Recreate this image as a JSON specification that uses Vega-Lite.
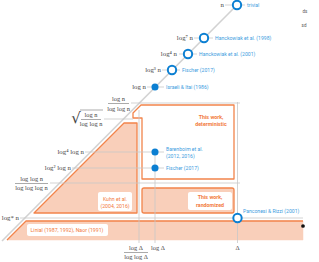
{
  "$schema": "https://vega.github.io/schema/vega-lite/v6.json",
  "width": 319,
  "height": 262,
  "padding": 0,
  "autosize": {"type": "none"},
  "background": "white",
  "config": {"view": {"stroke": null}},
  "datasets": {
    "polys": [
      {"id": "band", "i": 0, "x": 7, "y": 240},
      {"id": "band", "i": 1, "x": 26, "y": 221},
      {"id": "band", "i": 2, "x": 303, "y": 221},
      {"id": "band", "i": 3, "x": 303, "y": 240},
      {"id": "kuhn", "i": 0, "x": 34, "y": 213},
      {"id": "kuhn", "i": 1, "x": 124, "y": 123},
      {"id": "kuhn", "i": 2, "x": 137, "y": 123},
      {"id": "kuhn", "i": 3, "x": 137, "y": 213},
      {"id": "det", "i": 0, "x": 141, "y": 105},
      {"id": "det", "i": 1, "x": 234, "y": 105},
      {"id": "det", "i": 2, "x": 234, "y": 179},
      {"id": "det", "i": 3, "x": 142, "y": 179},
      {"id": "det", "i": 4, "x": 142, "y": 118},
      {"id": "det", "i": 5, "x": 133, "y": 118},
      {"id": "det", "i": 6, "x": 133, "y": 113},
      {"id": "bandtop", "i": 0, "x": 7, "y": 240},
      {"id": "bandtop", "i": 1, "x": 26, "y": 221},
      {"id": "bandtop", "i": 2, "x": 303, "y": 221}
    ],
    "rand": [{"x": 142, "x2": 234, "y": 188, "y2": 213}],
    "boxes": [
      {"x": 98, "x2": 132, "y": 192, "y2": 211},
      {"x": 27, "x2": 108, "y": 224, "y2": 236},
      {"x": 188, "x2": 232, "y": 192, "y2": 210}
    ],
    "grid": [
      {"x": 225, "x2": 245, "y": 5, "y2": 5},
      {"x": 194, "x2": 213, "y": 38, "y2": 38},
      {"x": 179, "x2": 197, "y": 54, "y2": 54},
      {"x": 162, "x2": 180, "y": 70, "y2": 70},
      {"x": 147, "x2": 164, "y": 87, "y2": 87},
      {"x": 131, "x2": 240, "y": 103, "y2": 103},
      {"x": 104, "x2": 133, "y": 119, "y2": 119},
      {"x": 85, "x2": 164, "y": 152, "y2": 152},
      {"x": 72, "x2": 164, "y": 168, "y2": 168},
      {"x": 50, "x2": 240, "y": 183, "y2": 183},
      {"x": 20, "x2": 303, "y": 218, "y2": 218},
      {"x": 139, "x2": 139, "y": 110, "y2": 243},
      {"x": 155, "x2": 155, "y": 152, "y2": 243},
      {"x": 237.5, "x2": 237.5, "y": 102, "y2": 243}
    ],
    "diag": [{"x": 2, "x2": 237, "y": 241, "y2": 5}],
    "bars": [
      {"x": 108, "x2": 129, "y": 103.5, "y2": 103.5},
      {"x": 80, "x2": 103, "y": 110, "y2": 110},
      {"x": 81, "x2": 101, "y": 119.5, "y2": 119.5},
      {"x": 15, "x2": 48, "y": 183.5, "y2": 183.5},
      {"x": 124, "x2": 148, "y": 252.5, "y2": 252.5}
    ],
    "sqrt": [{"x": 76, "y": 118, "t": "√"}],
    "openpts": [
      {"x": 237, "y": 5}, {"x": 204, "y": 38}, {"x": 188, "y": 54},
      {"x": 172, "y": 70}, {"x": 237.5, "y": 218}
    ],
    "fillpts": [{"x": 155, "y": 87}, {"x": 155, "y": 152}, {"x": 155, "y": 168}],
    "mathR": [
      {"x": 224, "y": 5, "t": "n"},
      {"x": 193, "y": 38, "t": "log⁷ n"},
      {"x": 177, "y": 54, "t": "log⁴ n"},
      {"x": 161, "y": 70, "t": "log³ n"},
      {"x": 146, "y": 87, "t": "log n"},
      {"x": 84, "y": 152, "t": "log⁴ log n"},
      {"x": 71, "y": 168, "t": "log² log n"},
      {"x": 19, "y": 218, "t": "log* n"}
    ],
    "mathC": [
      {"x": 118.5, "y": 98.5, "t": "log n"},
      {"x": 118.5, "y": 108.5, "t": "log log n"},
      {"x": 91, "y": 115, "t": "log n"},
      {"x": 91, "y": 124, "t": "log log n"},
      {"x": 31.5, "y": 179, "t": "log log n"},
      {"x": 31.5, "y": 188, "t": "log log log n"},
      {"x": 136, "y": 248, "t": "log Δ"},
      {"x": 136, "y": 257, "t": "log log Δ"},
      {"x": 158, "y": 248, "t": "log Δ"},
      {"x": 237.5, "y": 248, "t": "Δ"}
    ],
    "blue": [
      {"x": 247, "y": 5, "t": "trivial"},
      {"x": 215, "y": 38, "t": "Hanckowiak et al. (1998)"},
      {"x": 199, "y": 54, "t": "Hanckowiak et al. (2001)"},
      {"x": 182, "y": 70, "t": "Fischer (2017)"},
      {"x": 166, "y": 87, "t": "Israeli & Itai (1986)"},
      {"x": 166, "y": 148.5, "t": "Barenboim et al."},
      {"x": 166, "y": 155.5, "t": "(2012, 2016)"},
      {"x": 166, "y": 168, "t": "Fischer (2017)"},
      {"x": 243, "y": 211, "t": "Panconesi & Rizzi (2001)"}
    ],
    "orangeB": [
      {"x": 211, "y": 117, "t": "This work,"},
      {"x": 211, "y": 124, "t": "deterministic"},
      {"x": 210, "y": 197, "t": "This work,"},
      {"x": 210, "y": 205, "t": "randomized"}
    ],
    "orange": [
      {"x": 115, "y": 198.5, "t": "Kuhn et al."},
      {"x": 115, "y": 205.5, "t": "(2004, 2016)"},
      {"x": 67, "y": 230, "t": "Linial (1987, 1992), Naor (1991)"}
    ],
    "tiny": [
      {"x": 305, "y": 12, "t": "ds"},
      {"x": 304, "y": 26, "t": "sd"}
    ],
    "blk": [{"x": 303, "y": 226}]
  },
  "layer": [
    {
      "data": {"name": "polys"},
      "transform": [{"filter": "datum.id == 'band'"}],
      "mark": {"type": "line", "interpolate": "linear-closed", "fill": "#f9cfba", "stroke": "#f9cfba", "strokeWidth": 0.5},
      "encoding": {
        "x": {"field": "x", "type": "quantitative", "scale": {"domain": [0, 319], "nice": false, "zero": false}, "axis": null},
        "y": {"field": "y", "type": "quantitative", "scale": {"domain": [262, 0], "nice": false, "zero": false}, "axis": null},
        "order": {"field": "i", "type": "quantitative"}
      }
    },
    {
      "data": {"name": "polys"},
      "transform": [{"filter": "datum.id == 'bandtop'"}],
      "mark": {"type": "line", "stroke": "#f2844b", "strokeWidth": 1.3, "strokeJoin": "round"},
      "encoding": {
        "x": {"field": "x", "type": "quantitative", "scale": {"domain": [0, 319], "nice": false, "zero": false}, "axis": null},
        "y": {"field": "y", "type": "quantitative", "scale": {"domain": [262, 0], "nice": false, "zero": false}, "axis": null},
        "order": {"field": "i", "type": "quantitative"}
      }
    },
    {
      "data": {"name": "polys"},
      "transform": [{"filter": "datum.id == 'kuhn'"}],
      "mark": {"type": "line", "interpolate": "linear-closed", "fill": "#f9cfba", "stroke": "#f2844b", "strokeWidth": 1.3, "strokeJoin": "round"},
      "encoding": {
        "x": {"field": "x", "type": "quantitative", "scale": {"domain": [0, 319], "nice": false, "zero": false}, "axis": null},
        "y": {"field": "y", "type": "quantitative", "scale": {"domain": [262, 0], "nice": false, "zero": false}, "axis": null},
        "order": {"field": "i", "type": "quantitative"}
      }
    },
    {
      "data": {"name": "polys"},
      "transform": [{"filter": "datum.id == 'det'"}],
      "mark": {"type": "line", "interpolate": "linear-closed", "fill": "white", "stroke": "#f2844b", "strokeWidth": 1.3, "strokeJoin": "round"},
      "encoding": {
        "x": {"field": "x", "type": "quantitative", "scale": {"domain": [0, 319], "nice": false, "zero": false}, "axis": null},
        "y": {"field": "y", "type": "quantitative", "scale": {"domain": [262, 0], "nice": false, "zero": false}, "axis": null},
        "order": {"field": "i", "type": "quantitative"}
      }
    },
    {
      "data": {"name": "rand"},
      "mark": {"type": "rect", "fill": "#f9cfba", "stroke": "#f2844b", "strokeWidth": 1.3, "cornerRadius": 2},
      "encoding": {
        "x": {"field": "x", "type": "quantitative", "scale": {"domain": [0, 319], "nice": false, "zero": false}, "axis": null},
        "x2": {"field": "x2"},
        "y": {"field": "y", "type": "quantitative", "scale": {"domain": [262, 0], "nice": false, "zero": false}, "axis": null},
        "y2": {"field": "y2"}
      }
    },
    {
      "data": {"name": "boxes"},
      "mark": {"type": "rect", "fill": "white", "cornerRadius": 2},
      "encoding": {
        "x": {"field": "x", "type": "quantitative", "scale": {"domain": [0, 319], "nice": false, "zero": false}, "axis": null},
        "x2": {"field": "x2"},
        "y": {"field": "y", "type": "quantitative", "scale": {"domain": [262, 0], "nice": false, "zero": false}, "axis": null},
        "y2": {"field": "y2"}
      }
    },
    {
      "data": {"name": "diag"},
      "mark": {"type": "rule", "stroke": "#d2d2d2", "strokeWidth": 1.6},
      "encoding": {
        "x": {"field": "x", "type": "quantitative", "scale": {"domain": [0, 319], "nice": false, "zero": false}, "axis": null},
        "x2": {"field": "x2"},
        "y": {"field": "y", "type": "quantitative", "scale": {"domain": [262, 0], "nice": false, "zero": false}, "axis": null},
        "y2": {"field": "y2"}
      }
    },
    {
      "data": {"name": "grid"},
      "mark": {"type": "rule", "stroke": "#c8c8c8", "strokeWidth": 0.8},
      "encoding": {
        "x": {"field": "x", "type": "quantitative", "scale": {"domain": [0, 319], "nice": false, "zero": false}, "axis": null},
        "x2": {"field": "x2"},
        "y": {"field": "y", "type": "quantitative", "scale": {"domain": [262, 0], "nice": false, "zero": false}, "axis": null},
        "y2": {"field": "y2"}
      }
    },
    {
      "data": {"name": "bars"},
      "mark": {"type": "rule", "stroke": "#555", "strokeWidth": 0.5},
      "encoding": {
        "x": {"field": "x", "type": "quantitative", "scale": {"domain": [0, 319], "nice": false, "zero": false}, "axis": null},
        "x2": {"field": "x2"},
        "y": {"field": "y", "type": "quantitative", "scale": {"domain": [262, 0], "nice": false, "zero": false}, "axis": null},
        "y2": {"field": "y2"}
      }
    },
    {
      "data": {"name": "fillpts"},
      "mark": {"type": "point", "filled": true, "fill": "#0b7fd2", "opacity": 1, "size": 50},
      "encoding": {
        "x": {"field": "x", "type": "quantitative", "scale": {"domain": [0, 319], "nice": false, "zero": false}, "axis": null},
        "y": {"field": "y", "type": "quantitative", "scale": {"domain": [262, 0], "nice": false, "zero": false}, "axis": null}
      }
    },
    {
      "data": {"name": "openpts"},
      "mark": {"type": "point", "filled": false, "fill": "white", "stroke": "#0b7fd2", "strokeWidth": 2, "opacity": 1, "size": 70},
      "encoding": {
        "x": {"field": "x", "type": "quantitative", "scale": {"domain": [0, 319], "nice": false, "zero": false}, "axis": null},
        "y": {"field": "y", "type": "quantitative", "scale": {"domain": [262, 0], "nice": false, "zero": false}, "axis": null}
      }
    },
    {
      "data": {"name": "blk"},
      "mark": {"type": "point", "filled": true, "fill": "#111", "opacity": 1, "size": 14},
      "encoding": {
        "x": {"field": "x", "type": "quantitative", "scale": {"domain": [0, 319], "nice": false, "zero": false}, "axis": null},
        "y": {"field": "y", "type": "quantitative", "scale": {"domain": [262, 0], "nice": false, "zero": false}, "axis": null}
      }
    },
    {
      "data": {"name": "mathR"},
      "mark": {"type": "text", "align": "right", "baseline": "middle", "font": "Liberation Serif", "fontSize": 6.8, "fill": "#444"},
      "encoding": {
        "x": {"field": "x", "type": "quantitative", "scale": {"domain": [0, 319], "nice": false, "zero": false}, "axis": null},
        "y": {"field": "y", "type": "quantitative", "scale": {"domain": [262, 0], "nice": false, "zero": false}, "axis": null},
        "text": {"field": "t"}
      }
    },
    {
      "data": {"name": "mathC"},
      "mark": {"type": "text", "align": "center", "baseline": "middle", "font": "Liberation Serif", "fontSize": 6.4, "fill": "#444"},
      "encoding": {
        "x": {"field": "x", "type": "quantitative", "scale": {"domain": [0, 319], "nice": false, "zero": false}, "axis": null},
        "y": {"field": "y", "type": "quantitative", "scale": {"domain": [262, 0], "nice": false, "zero": false}, "axis": null},
        "text": {"field": "t"}
      }
    },
    {
      "data": {"name": "sqrt"},
      "mark": {"type": "text", "align": "center", "baseline": "middle", "font": "DejaVu Serif", "fontSize": 15, "fill": "#444"},
      "encoding": {
        "x": {"field": "x", "type": "quantitative", "scale": {"domain": [0, 319], "nice": false, "zero": false}, "axis": null},
        "y": {"field": "y", "type": "quantitative", "scale": {"domain": [262, 0], "nice": false, "zero": false}, "axis": null},
        "text": {"field": "t"}
      }
    },
    {
      "data": {"name": "blue"},
      "mark": {"type": "text", "align": "left", "baseline": "middle", "font": "Roboto", "fontSize": 5.1, "fill": "#3d9de0"},
      "encoding": {
        "x": {"field": "x", "type": "quantitative", "scale": {"domain": [0, 319], "nice": false, "zero": false}, "axis": null},
        "y": {"field": "y", "type": "quantitative", "scale": {"domain": [262, 0], "nice": false, "zero": false}, "axis": null},
        "text": {"field": "t"}
      }
    },
    {
      "data": {"name": "orangeB"},
      "mark": {"type": "text", "align": "center", "baseline": "middle", "font": "Roboto", "fontSize": 5.3, "fontWeight": "bold", "fill": "#f27a3d"},
      "encoding": {
        "x": {"field": "x", "type": "quantitative", "scale": {"domain": [0, 319], "nice": false, "zero": false}, "axis": null},
        "y": {"field": "y", "type": "quantitative", "scale": {"domain": [262, 0], "nice": false, "zero": false}, "axis": null},
        "text": {"field": "t"}
      }
    },
    {
      "data": {"name": "orange"},
      "mark": {"type": "text", "align": "center", "baseline": "middle", "font": "Roboto", "fontSize": 5.2, "fill": "#f27a3d"},
      "encoding": {
        "x": {"field": "x", "type": "quantitative", "scale": {"domain": [0, 319], "nice": false, "zero": false}, "axis": null},
        "y": {"field": "y", "type": "quantitative", "scale": {"domain": [262, 0], "nice": false, "zero": false}, "axis": null},
        "text": {"field": "t"}
      }
    },
    {
      "data": {"name": "tiny"},
      "mark": {"type": "text", "align": "center", "baseline": "middle", "font": "Roboto", "fontSize": 4.5, "fill": "#555"},
      "encoding": {
        "x": {"field": "x", "type": "quantitative", "scale": {"domain": [0, 319], "nice": false, "zero": false}, "axis": null},
        "y": {"field": "y", "type": "quantitative", "scale": {"domain": [262, 0], "nice": false, "zero": false}, "axis": null},
        "text": {"field": "t"}
      }
    }
  ]
}
